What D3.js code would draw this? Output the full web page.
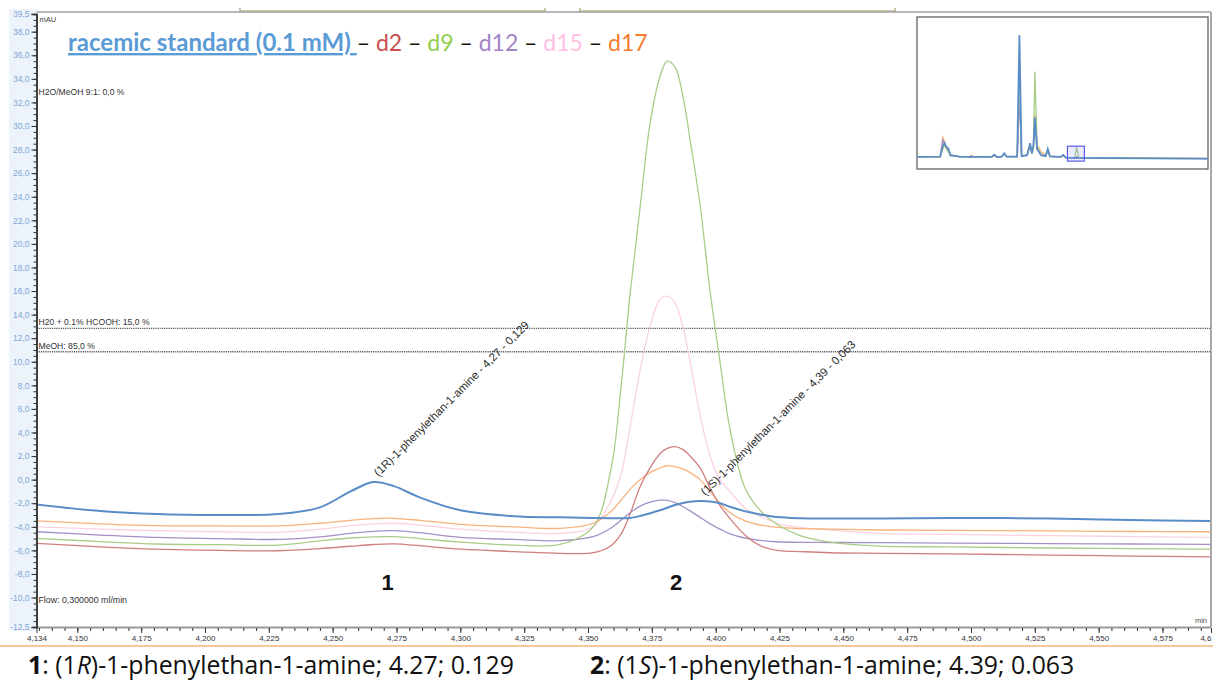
<!DOCTYPE html>
<html><head><meta charset="utf-8">
<script src="https://cdn.jsdelivr.net/npm/d3@7"></script>
<style>body{margin:0;background:#fff}svg{display:block}</style>
</head><body>
<svg id="chart" width="1213" height="681"></svg>
<script>
// ---------- DATA ----------
const times = [4.134,4.159,4.181,4.206,4.229,4.245,4.257,4.266,4.274,4.284,4.300,4.321,4.339,4.352,4.359,4.363,4.3665,4.3704,4.3743,4.3782,4.3810,4.3841,4.3872,4.3900,4.3939,4.3978,4.4017,4.4056,4.4115,4.4174,4.4241,4.4331,4.4448,4.4644,4.4918,4.5310,4.5623,4.594];
const racemic = [-2.10,-2.66,-2.92,-3.00,-2.92,-2.35,-1.00,-0.20,-0.55,-1.50,-2.60,-3.10,-3.20,-3.25,-3.27,-3.28,-3.25,-3.08,-2.85,-2.60,-2.38,-2.15,-1.98,-1.88,-1.82,-1.85,-2.00,-2.30,-2.68,-2.95,-3.17,-3.27,-3.30,-3.30,-3.25,-3.30,-3.42,-3.51];
const d2  = [-5.40,-5.70,-5.90,-6.00,-6.03,-5.85,-5.65,-5.50,-5.45,-5.60,-5.90,-6.10,-6.25,-6.20,-5.60,-4.60,-2.90,-0.60,1.00,2.20,2.65,2.80,2.55,2.00,1.00,-0.70,-2.20,-3.30,-4.70,-5.60,-6.00,-6.10,-6.20,-6.25,-6.30,-6.40,-6.48,-6.55];
const d9  = [-4.98,-5.25,-5.46,-5.52,-5.55,-5.20,-4.95,-4.85,-4.84,-5.00,-5.30,-5.55,-5.50,-4.00,0.90,8.00,15.80,23.10,30.20,34.20,35.50,35.00,32.50,28.80,23.30,16.00,10.00,4.30,-0.70,-2.60,-3.80,-4.75,-5.30,-5.64,-5.70,-5.80,-5.85,-5.90];
const d12 = [-4.42,-4.70,-4.90,-5.00,-5.07,-4.85,-4.55,-4.38,-4.33,-4.50,-4.90,-5.07,-5.18,-4.84,-4.10,-3.43,-2.80,-2.25,-1.90,-1.73,-1.75,-1.95,-2.30,-2.65,-3.20,-3.75,-4.20,-4.60,-4.95,-5.15,-5.27,-5.32,-5.33,-5.35,-5.38,-5.43,-5.46,-5.49];
const d15 = [-4.00,-4.20,-4.33,-4.42,-4.47,-4.20,-3.90,-3.75,-3.70,-3.85,-4.20,-4.45,-4.55,-4.00,-1.80,0.50,4.50,9.30,13.00,15.30,15.57,15.00,12.90,10.00,5.50,2.00,0.00,-1.00,-2.40,-3.10,-3.70,-4.05,-4.28,-4.55,-4.65,-4.75,-4.83,-4.90];
const d17 = [-3.50,-3.75,-3.90,-3.93,-3.93,-3.70,-3.45,-3.30,-3.28,-3.45,-3.80,-4.00,-4.13,-3.70,-2.70,-1.73,-0.80,0.00,0.60,1.00,1.18,1.10,0.90,0.60,0.00,-1.00,-2.00,-2.80,-3.50,-3.85,-4.05,-4.15,-4.20,-4.27,-4.30,-4.35,-4.40,-4.42];

const seriesNames  = ["racemic standard (0.1 mM)","d2","d9","d12","d15","d17"];
const legendColors = ["#5b9bd5","#c9504d","#8fce4f","#a283c8","#ffbfe4","#f47c30"];
const lineColors   = ["#5a8dc8","#d07f7f","#a9cd86","#a590c6","#fbd2e2","#f8b27c"];

const xTickValues = [4.134,4.150,4.175,4.200,4.225,4.250,4.275,4.300,4.325,4.350,4.375,4.400,4.425,4.450,4.475,4.500,4.525,4.550,4.575,4.594];
const xTickLabels = ["4,134","4,150","4,175","4,200","4,225","4,250","4,275","4,300","4,325","4,350","4,375","4,400","4,425","4,450","4,475","4,500","4,525","4,550","4,575","4,6"];
const yTickValues = [-12.5,-10,-8,-6,-4,-2,0,2,4,6,8,10,12,14,16,18,20,22,24,26,28,30,32,34,36,38,39.5];
const yTickLabels = ["-12,5","-10,0","-8,0","-6,0","-4,0","-2,0","0,0","2,0","4,0","6,0","8,0","10,0","12,0","14,0","16,0","18,0","20,0","22,0","24,0","26,0","28,0","30,0","32,0","34,0","36,0","38,0","39,5"];

const gradientLabels = ["H20 + 0.1% HCOOH: 15,0 %","MeOH: 85,0 %"];
const gradientValues = [12.83, 10.85];

const peakTimes  = [4.266, 4.394];
const peakValues = [-0.20, -1.82];
const peakTexts  = ["(1R)-1-phenylethan-1-amine - 4,27 - 0,129","(1S)-1-phenylethan-1-amine - 4,39 - 0,063"];
const peakNumTimes = [4.2715, 4.3845];
const peakNumbers  = ["1","2"];

// overview (inset) chromatogram
const insetTimes   = [0.05,0.68,0.75,0.80,0.84,0.90,0.96,1.20,1.48,1.53,1.58,2.08,2.15,2.22,2.35,2.42,2.49,2.77,2.83,2.89,3.04,3.12,3.17,3.21,3.25,3.31,3.42,3.54,3.60,3.66,3.95,4.02,4.09,4.33,4.385,4.44,5.00,7.95];
const insetRacemic = [2,3,40,50,38,32,8,3,2,3,2,2,10,2,3,15,3,3,426,5,8,50,15,40,140,30,8,5,30,4,2,9,0,-1,-0.5,-1,-2,-4];
const insetD9      = [2,3,30,45,30,20,6,3,2,3,2,2,8,2,3,12,3,3,300,5,8,45,15,40,300,40,10,5,25,4,2,7,0,-1,36,-1,-2,-4];
const insetD17     = [2,3,70,55,35,25,8,3,3,8,3,2,8,2,3,12,3,3,250,6,8,40,15,35,150,45,20,8,25,5,2,7,0,0,3,0,-1,-3];
const insetD12     = [2,3,62,45,32,24,7,3,2,3,2,2,8,2,3,12,3,3,200,5,8,40,15,35,120,30,10,5,22,4,2,7,0,-1,-1,-1,-2,-4];

// ---------- CHART ----------
const svg = d3.select("#chart");
const L = 36.5, R = 1211, T = 14, B = 627;
const x = d3.scaleLinear().domain([4.134, 4.594]).range([L, R]);
const y = d3.scaleLinear().domain([-12.5, 39.5]).range([B, T]);
const smallFont = "'Liberation Sans', Arial, sans-serif";

// left label background
svg.append("rect").attr("x",9).attr("y",9).attr("width",L-9).attr("height",B-9+4).attr("fill","#edf3fb");

// top decorative bar
svg.append("line").attr("x1",L).attr("x2",R).attr("y1",12).attr("y2",12).attr("stroke","#b4b8be").attr("stroke-width",2);
[[240,545],[580,895]].forEach(([a,b])=>{
  svg.append("path").attr("d",`M${a},8V11H${b}V8`).attr("fill","none").attr("stroke","#a89c70").attr("stroke-width",1.2);
});

// clip
svg.append("clipPath").attr("id","clip").append("rect").attr("x",L).attr("y",T-2).attr("width",R-L).attr("height",B-T+2);

// gradient dotted lines
gradientValues.forEach((v,i)=>{
  svg.append("line").attr("x1",L).attr("x2",R).attr("y1",y(v)).attr("y2",y(v))
    .attr("stroke","#555").attr("stroke-width",1.3).attr("stroke-dasharray","1.2,1");
  svg.append("text").attr("x",L+2).attr("y",y(v)-3).text(gradientLabels[i])
    .attr("font-family",smallFont).attr("font-size",8.6).attr("fill","#333");
});
svg.append("text").attr("x",L+2).attr("y",95).text("H2O/MeOH 9:1: 0,0 %").attr("font-family",smallFont).attr("font-size",8.6).attr("fill","#333");
svg.append("text").attr("x",L+3).attr("y",22).text("mAU").attr("font-family",smallFont).attr("font-size",7.5).attr("fill","#444");
svg.append("text").attr("x",L+2).attr("y",603).text("Flow: 0,300000 ml/min").attr("font-family",smallFont).attr("font-size",8.8).attr("fill","#333");
svg.append("text").attr("x",R-4).attr("y",623).attr("text-anchor","end").text("min").attr("font-family",smallFont).attr("font-size",7.5).attr("fill","#555");

// traces
const allSeries = [racemic, d2, d9, d12, d15, d17];
const line = d3.line().x((d,i)=>x(times[i])).y(d=>y(d)).curve(d3.curveCatmullRom.alpha(0.5));
const drawOrder = [4,5,3,1,2,0];
const g = svg.append("g").attr("clip-path","url(#clip)");
drawOrder.forEach(k=>{
  g.append("path").datum(allSeries[k]).attr("d",line).attr("fill","none")
    .attr("stroke",lineColors[k]).attr("stroke-width",k===0?2:1.3);
});

// peak annotations
peakTimes.forEach((t,i)=>{
  const px = x(t)+5, py = y(peakValues[i])-5;
  svg.append("text").attr("transform",`translate(${px},${py}) rotate(-45)`)
    .text(peakTexts[i]).attr("font-family",smallFont).attr("font-size",11.4).attr("fill","#2a2a2a");
  svg.append("text").attr("x",x(peakNumTimes[i])).attr("y",590).attr("text-anchor","middle")
    .text(peakNumbers[i]).attr("font-family",smallFont).attr("font-weight","bold").attr("font-size",22).attr("fill","#111");
});

// frame
svg.append("line").attr("x1",R).attr("x2",R).attr("y1",12).attr("y2",B).attr("stroke","#a8a8a8").attr("stroke-width",2);
svg.append("line").attr("x1",L).attr("x2",R).attr("y1",B+0.5).attr("y2",B+0.5).attr("stroke","#999").attr("stroke-width",2);

// y axis
const yMinor = d3.range(-12.5, 39.51, 0.5);
const yAxisMinor = d3.axisLeft(y).tickValues(yMinor).tickSize(3).tickFormat("");
const yAxis = d3.axisLeft(y).tickValues(yTickValues).tickSize(5).tickFormat((d,i)=>yTickLabels[i]);
const ya1 = svg.append("g").attr("transform",`translate(${L},0)`).call(yAxisMinor);
const ya2 = svg.append("g").attr("transform",`translate(${L},0)`).call(yAxis);
[ya1,ya2].forEach(a=>{a.select(".domain").attr("stroke","#333").attr("stroke-width",1.5); a.selectAll(".tick line").attr("stroke","#333");});
ya2.selectAll("text").attr("font-family",smallFont).attr("font-size",8.5).attr("fill","#7ea7d6").attr("dx",1);

// x axis
const xMinor = d3.range(4.135, 4.594, 0.005);
const xAxisMinor = d3.axisBottom(x).tickValues(xMinor).tickSize(3).tickFormat("");
const xAxis = d3.axisBottom(x).tickValues(xTickValues).tickSize(5).tickFormat((d,i)=>xTickLabels[i]);
const xa1 = svg.append("g").attr("transform",`translate(0,${B+1})`).call(xAxisMinor);
const xa2 = svg.append("g").attr("transform",`translate(0,${B+1})`).call(xAxis);
[xa1,xa2].forEach(a=>{a.select(".domain").remove(); a.selectAll(".tick line").attr("stroke","#333");});
xa2.selectAll("text").attr("font-family",smallFont).attr("font-size",8).attr("fill","#333").attr("dy","0.6em");
xa2.selectAll("text").filter((d,i)=>i===xTickValues.length-1).attr("text-anchor","end").attr("dx",0);

// orange separator
svg.append("line").attr("x1",0).attr("x2",1213).attr("y1",646).attr("y2",646).attr("stroke","#f6c899").attr("stroke-width",2);

// legend
const leg = svg.append("text").attr("x",68).attr("y",51).attr("font-family","Lato, 'Open Sans', sans-serif").attr("font-size",24);
leg.append("tspan").text(seriesNames[0]+" ").attr("font-weight","bold").attr("fill",legendColors[0]).attr("text-decoration","underline");
for(let k=1;k<seriesNames.length;k++){
  leg.append("tspan").text("– ").attr("fill","#111").attr("font-size",23);
  leg.append("tspan").text(seriesNames[k]+(k<seriesNames.length-1?" ":"")).attr("fill",legendColors[k]).attr("font-size",23);
}

// inset
const ix = d3.scaleLinear().domain([0.05, 7.95]).range([917, 1208]);
const iy = d3.scaleLinear().domain([-40, 490]).range([169, 17]);
svg.append("rect").attr("x",917).attr("y",17).attr("width",291).attr("height",152).attr("fill","#fff").attr("stroke","#555").attr("stroke-width",1.2);
const iline = d3.line().x((d,i)=>ix(insetTimes[i])).y(d=>iy(d));
[[insetD17,lineColors[5]],[insetD12,lineColors[3]],[insetD9,lineColors[2]],[insetRacemic,lineColors[0]]].forEach(([s,c],j)=>{
  svg.append("path").datum(s).attr("d",iline).attr("fill","none").attr("stroke",c).attr("stroke-width",j===3?1.8:1.3);
});
svg.append("rect").attr("x",ix(4.134)).attr("y",iy(39.5)).attr("width",ix(4.594)-ix(4.134)).attr("height",iy(-12.5)-iy(39.5))
  .attr("fill","rgba(120,120,255,0.15)").attr("stroke","#5b5bf0").attr("stroke-width",1.2);

// captions
const capFont = "'Open Sans', 'Noto Sans', sans-serif";
const caps = [
  {x:28, num:"1", pre:": (1", it:"R", post:")-1-phenylethan-1-amine; 4.27; 0.129"},
  {x:590, num:"2", pre:": (1", it:"S", post:")-1-phenylethan-1-amine; 4.39; 0.063"}
];
caps.forEach(c=>{
  const t = svg.append("text").attr("x",c.x).attr("y",674).attr("font-family",capFont).attr("font-size",24.8).attr("fill","#111");
  t.append("tspan").text(c.num).attr("font-weight","bold");
  t.append("tspan").text(c.pre);
  t.append("tspan").text(c.it).attr("font-style","italic");
  t.append("tspan").text(c.post);
});
</script>
</body></html>
